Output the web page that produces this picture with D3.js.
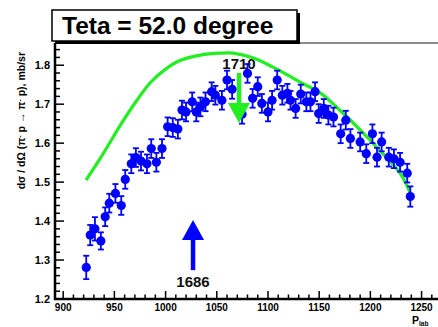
<!DOCTYPE html>
<html>
<head>
<meta charset="utf-8">
<script src="https://cdn.jsdelivr.net/npm/d3@7"></script>
<style>
  body { margin: 0; background: #fff; }
  svg { display: block; font-family: "Liberation Sans", Arial, sans-serif; font-weight: bold; }
</style>
</head>
<body>
<div id="wrap"></div>
<script>
// measured points (P_lab, dsigma/dOmega, error)
let plab = [922.5, 926.4, 931, 936.8, 941, 945, 951, 956.7, 960.6, 966.5, 971, 976, 981.8, 986, 991, 996.5,
  1002, 1007, 1012, 1016, 1020, 1026, 1030, 1034, 1039, 1045, 1048.6, 1055, 1060, 1065, 1074.7, 1080,
  1085, 1090, 1094, 1100, 1104, 1109, 1114, 1119, 1122, 1127, 1132, 1137.5, 1141.5, 1146, 1149.5,
  1154.5, 1159, 1164, 1171, 1176, 1180.5, 1190, 1196, 1202, 1206.5, 1211, 1218, 1223, 1229, 1236, 1239];
let xsec = [1.281, 1.364, 1.380, 1.349, 1.411, 1.446, 1.471, 1.440, 1.507, 1.547, 1.563, 1.554, 1.547, 1.586, 1.551, 1.586,
  1.642, 1.640, 1.636, 1.685, 1.680, 1.706, 1.680, 1.693, 1.706, 1.732, 1.723, 1.710, 1.762, 1.738, 1.674, 1.779,
  1.715, 1.745, 1.702, 1.680, 1.710, 1.762, 1.723, 1.728, 1.710, 1.689, 1.726, 1.706, 1.706, 1.732, 1.676,
  1.689, 1.672, 1.667, 1.624, 1.659, 1.612, 1.603, 1.573, 1.624, 1.564, 1.603, 1.564, 1.560, 1.551, 1.523, 1.463];
let xerr = [0.030, 0.026, 0.030, 0.022, 0.024, 0.024, 0.024, 0.024, 0.024, 0.024, 0.024, 0.024, 0.024, 0.024, 0.024, 0.024,
  0.024, 0.024, 0.024, 0.024, 0.024, 0.024, 0.024, 0.024, 0.024, 0.024, 0.024, 0.024, 0.024, 0.024, 0.024, 0.024,
  0.024, 0.024, 0.024, 0.024, 0.024, 0.024, 0.024, 0.024, 0.024, 0.024, 0.024, 0.024, 0.024, 0.024, 0.024,
  0.024, 0.024, 0.024, 0.024, 0.024, 0.024, 0.024, 0.024, 0.024, 0.024, 0.024, 0.024, 0.024, 0.024, 0.024, 0.026];

// model curve (green)
let curveP = [922.3, 936, 948, 958, 972, 985, 1000, 1014, 1034, 1053, 1066, 1085, 1105, 1119, 1131, 1151, 1170, 1190, 1209, 1229, 1239];
let curveV = [1.505, 1.560, 1.612, 1.655, 1.710, 1.755, 1.790, 1.812, 1.826, 1.831, 1.831, 1.819, 1.795, 1.775, 1.757, 1.729, 1.685, 1.634, 1.582, 1.523, 1.472];

// resonance arrows: label, P_lab, tail value, tip value
let arrowLabels = ["1710", "1686"];
let arrowP = [1071.7, 1026.8];
let arrowFrom = [1.780, 1.274];
let arrowTo = [1.652, 1.403];
let arrowColors = ["#22ee22", "#0000ff"];

let xTicks = [900, 950, 1000, 1050, 1100, 1150, 1200, 1250];
let yTicks = [1.2, 1.3, 1.4, 1.5, 1.6, 1.7, 1.8];
let title = "Teta = 52.0 degree";

let width = 438, height = 327;
let margin = {top: 43, left: 55, bottom: 28, right: -2};

let svg = d3.select("#wrap").append("svg")
  .attr("width", width)
  .attr("height", height);

let x = d3.scaleLinear().domain([892, 1268]).range([margin.left, width - margin.right]);
let y = d3.scaleLinear().domain([1.2, 1.857]).range([height - margin.bottom, margin.top]);

// frame top line
svg.append("line")
  .attr("x1", margin.left).attr("x2", width)
  .attr("y1", margin.top).attr("y2", margin.top)
  .attr("stroke", "#666").attr("stroke-width", 1.5);

// green model curve
let line = d3.line()
  .x(function(d, i) { return x(curveP[i]); })
  .y(function(d) { return y(d); })
  .curve(d3.curveCatmullRom);

// arrow labels (drawn under the curve)
svg.selectAll(".alabel")
  .data(arrowLabels)
  .enter().append("text")
    .attr("class", "alabel")
    .attr("x", function(d, i) { return x(arrowP[i]); })
    .attr("y", function(d, i) { return i == 0 ? y(arrowFrom[i]) - 4 : y(arrowFrom[i]) + 17; })
    .attr("text-anchor", "middle")
    .attr("font-size", 15)
    .attr("fill", "#111")
    .text(function(d) { return d; });

svg.append("path")
  .datum(curveV)
  .attr("d", line)
  .attr("fill", "none")
  .attr("stroke", "#22ee22")
  .attr("stroke-width", 3.2);

// error bars
let pts = svg.append("g");
plab.forEach(function(p, i) {
  let cx = x(p), lo = y(xsec[i] - xerr[i]), hi = y(xsec[i] + xerr[i]);
  pts.append("line")
    .attr("x1", cx).attr("x2", cx).attr("y1", lo).attr("y2", hi)
    .attr("stroke", "#0000ff").attr("stroke-width", 1.8);
  [lo, hi].forEach(function(v) {
    pts.append("line")
      .attr("x1", cx - 3).attr("x2", cx + 3).attr("y1", v).attr("y2", v)
      .attr("stroke", "#0000ff").attr("stroke-width", 1.8);
  });
});
pts.selectAll("circle")
  .data(xsec)
  .enter().append("circle")
    .attr("cx", function(d, i) { return x(plab[i]); })
    .attr("cy", function(d) { return y(d); })
    .attr("r", 4.6)
    .attr("fill", "#0000ff");

// arrows
arrowLabels.forEach(function(l, i) {
  let ax = x(arrowP[i]), y0 = y(arrowFrom[i]), y1 = y(arrowTo[i]);
  let dir = y1 > y0 ? 1 : -1;
  svg.append("line")
    .attr("x1", ax).attr("x2", ax).attr("y1", y0).attr("y2", y1 - dir * 18)
    .attr("stroke", arrowColors[i]).attr("stroke-width", 4.5);
  svg.append("path")
    .attr("d", "M" + (ax - 11) + "," + (y1 - dir * 20) + "L" + (ax + 11) + "," + (y1 - dir * 20) + "L" + ax + "," + y1 + "Z")
    .attr("fill", arrowColors[i]);
});

// x axis
let xAxis = svg.append("g")
  .attr("transform", "translate(0," + y(1.2) + ")");
xAxis.append("line")
  .attr("x1", margin.left - 1).attr("x2", width)
  .attr("stroke", "#000").attr("stroke-width", 2.5);
xAxis.selectAll(".minor")
  .data(d3.range(900, 1261, 10))
  .enter().append("line")
    .attr("x1", function(d) { return x(d); }).attr("x2", function(d) { return x(d); })
    .attr("y1", 0).attr("y2", function(d) { return d % 50 == 0 ? -8 : -4.5; })
    .attr("stroke", "#000").attr("stroke-width", 1.5);
xAxis.selectAll(".lab")
  .data(xTicks)
  .enter().append("text")
    .attr("x", function(d) { return x(d); })
    .attr("y", 12)
    .attr("text-anchor", "middle")
    .attr("font-size", 10)
    .text(function(d) { return d; });

// y axis
let yAxis = svg.append("g")
  .attr("transform", "translate(" + margin.left + ",0)");
yAxis.append("line")
  .attr("y1", margin.top).attr("y2", y(1.2) + 1)
  .attr("stroke", "#000").attr("stroke-width", 2.5);
yAxis.selectAll(".minor")
  .data(d3.range(0, 33))
  .enter().append("line")
    .attr("y1", function(d) { return y(1.2 + d * 0.02); }).attr("y2", function(d) { return y(1.2 + d * 0.02); })
    .attr("x1", 0).attr("x2", function(d) { return d % 5 == 0 ? 9 : 5; })
    .attr("stroke", "#000").attr("stroke-width", 1.5);
yAxis.selectAll(".lab")
  .data(yTicks)
  .enter().append("text")
    .attr("x", -5)
    .attr("y", function(d) { return y(d) + 4; })
    .attr("text-anchor", "end")
    .attr("font-size", 11)
    .text(function(d) { return d.toFixed(1); });

// axis titles
let yt = svg.append("text")
  .attr("transform", "translate(25,52) rotate(-90)")
  .attr("text-anchor", "end")
  .attr("font-size", 10.5);
yt.append("tspan").text("dσ / dΩ (π");
yt.append("tspan").attr("baseline-shift", "super").attr("font-size", 7).text("-");
yt.append("tspan").text(" p → π");
yt.append("tspan").attr("baseline-shift", "super").attr("font-size", 7).text("-");
yt.append("tspan").text(" p), mb/sr");

let xt = svg.append("text")
  .attr("x", 412).attr("y", 324)
  .attr("font-size", 10.5);
xt.append("tspan").text("P");
xt.append("tspan").attr("font-size", 6.5).attr("dy", 1.5).text("lab");

// title box with shadow
svg.append("rect")
  .attr("x", 55).attr("y", 13).attr("width", 245).attr("height", 31)
  .attr("fill", "#000");
svg.append("rect")
  .attr("x", 52).attr("y", 10).attr("width", 245).attr("height", 31)
  .attr("fill", "#fff").attr("stroke", "#000").attr("stroke-width", 1.5);
svg.append("text")
  .attr("x", 62).attr("y", 34)
  .attr("font-size", 24.5)
  .text(title);
</script>
</body>
</html>
